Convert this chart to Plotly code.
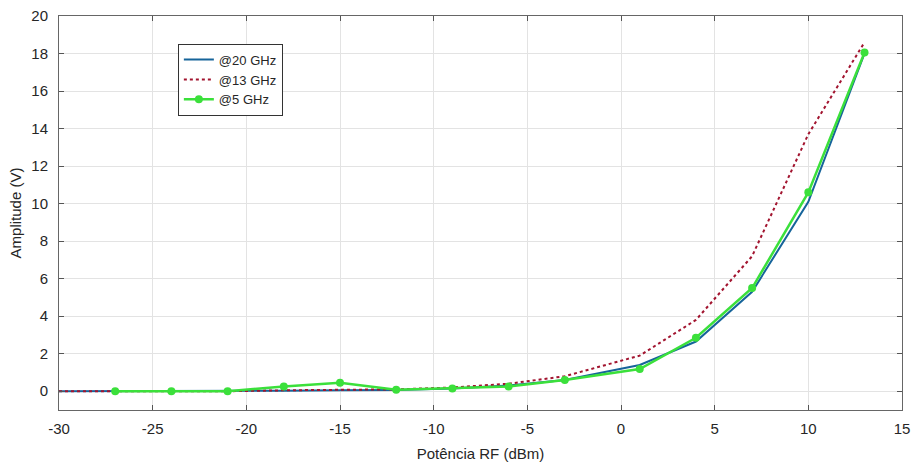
import plotly.graph_objects as go

# RF input power (dBm)
power_long = [-30, -27, -24, -21, -18, -15, -12, -9, -6, -3, 1, 4, 7, 10, 13]
power_5 = [-27, -24, -21, -18, -15, -12, -9, -6, -3, 1, 4, 7, 10, 13]

# Output amplitude (V) per frequency
amp_20ghz = [0, 0, 0, 0, 0.03, 0.05, 0.07, 0.15, 0.3, 0.6, 1.4, 2.65, 5.3, 10.1, 18.0]
amp_13ghz = [0, 0, 0, 0, 0.05, 0.07, 0.1, 0.2, 0.4, 0.8, 1.9, 3.8, 7.2, 13.7, 18.6]
amp_5ghz = [0, 0, 0, 0.25, 0.45, 0.08, 0.15, 0.25, 0.6, 1.18, 2.85, 5.5, 10.6, 18.05]

x_ticks = [-30, -25, -20, -15, -10, -5, 0, 5, 10, 15]
x_labels = ["-30", "-25", "-20", "-15", "-10", "-5", "0", "5", "10", "15"]
y_ticks = list(range(0, 21, 2))
y_labels = [str(v) for v in y_ticks]

fig = go.Figure()
fig.add_trace(go.Scatter(x=power_long, y=amp_20ghz, mode="lines", name="@20 GHz",
                         line=dict(color="#16649A", width=2)))
fig.add_trace(go.Scatter(x=power_long, y=amp_13ghz, mode="lines", name="@13 GHz",
                         line=dict(color="#A2142F", width=2, dash="dot")))
fig.add_trace(go.Scatter(x=power_5, y=amp_5ghz, mode="lines+markers", name="@5 GHz",
                         line=dict(color="#3BE03B", width=2.5),
                         marker=dict(color="#3BE03B", size=8)))

axis_common = dict(showline=True, linecolor="#666666", linewidth=1, mirror="ticks",
                   ticks="inside", ticklen=5, tickcolor="#555555",
                   showgrid=True, gridcolor="#E3E3E3", gridwidth=1, zeroline=False,
                   automargin=False,
                   tickfont=dict(family="Arial, Liberation Sans", size=15, color="#262626"))

fig.update_layout(
    width=914, height=462,
    margin=dict(l=59, r=12, t=16, b=52),
    paper_bgcolor="white", plot_bgcolor="white",
    font=dict(family="Arial, Liberation Sans", color="#262626"),
    xaxis=dict(range=[-30, 15], tickvals=x_ticks, ticktext=x_labels,
               ticklabelstandoff=5,
               title=dict(text="Potência RF (dBm)", font=dict(size=15), standoff=12),
               **axis_common),
    yaxis=dict(range=[-1, 20], tickvals=y_ticks, ticktext=y_labels,
               ticklabelstandoff=7,
               title=dict(text="Amplitude (V)", font=dict(size=15), standoff=6),
               **axis_common),
    legend=dict(x=0.141, y=0.93, xanchor="left", yanchor="top",
                bgcolor="white", bordercolor="#333333", borderwidth=1,
                font=dict(size=13, family="Arial, Liberation Sans"),
                tracegroupgap=0, itemwidth=30),
    showlegend=True,
)

fig.write_html("out.html")
